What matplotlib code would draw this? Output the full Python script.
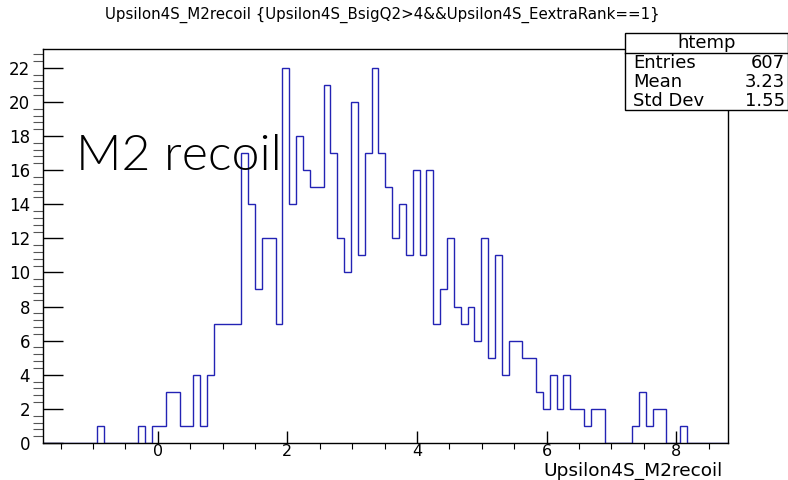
import matplotlib.pyplot as plt
import matplotlib.patches as mpatches
import numpy as np

# histogram range and content (100 bins)
xMin = -1.78
xMax = 8.80
counts = [
    0, 0, 0, 0, 0, 0, 0, 0, 1, 0,
    0, 0, 0, 0, 1, 0, 1, 1, 3, 3,
    1, 1, 4, 1, 4, 7, 7, 7, 7, 17,
    14, 9, 12, 12, 7, 22, 14, 18, 16, 15,
    15, 21, 17, 12, 10, 20, 11, 17, 22, 17,
    15, 12, 14, 11, 16, 11, 16, 7, 9, 12,
    8, 7, 8, 6, 12, 5, 11, 4, 6, 6,
    5, 5, 3, 2, 4, 2, 4, 2, 2, 1,
    2, 2, 0, 0, 0, 0, 1, 3, 1, 2,
    2, 0, 0, 1, 0, 0, 0, 0, 0, 0,
]
xTicks = [0, 2, 4, 6, 8]
yTicks = [0, 2, 4, 6, 8, 10, 12, 14, 16, 18, 20, 22]
statNames = ["Entries", "Mean", "Std Dev"]
statValues = ["607", "3.23", "1.55"]
histName = "htemp"
titleText = "Upsilon4S_M2recoil {Upsilon4S_BsigQ2>4&&Upsilon4S_EextraRank==1}"
xLabel = "Upsilon4S_M2recoil"

W, H = 788, 480
# the reference text is wide, DejaVu Sans is closer in width than Arial metrics
plt.rcParams['font.family'] = ['DejaVu Sans']

fig = plt.figure(figsize=(W / 100, H / 100), dpi=100)

def fx(px):
    return px / W

def fy(py):
    return 1 - py / H

# frame in pixels: left 42.5, right 728, top 49, bottom 443
ax = fig.add_axes([fx(42.5), fy(443), fx(728) - fx(42.5), fy(49) - fy(443)])

edges = np.linspace(xMin, xMax, len(counts) + 1)
ax.stairs(counts, edges, color="#2323b4", lw=1.0)

ax.set_xlim(xMin, xMax)
ax.set_ylim(0, max(counts) * 1.05)
ax.set_xticks(xTicks)
ax.set_yticks(yTicks)
ax.set_xticks(np.arange(-1.5, 9.0, 0.5), minor=True)
ax.set_yticks(np.arange(0, 23.2, 0.4), minor=True)
ax.tick_params(axis="both", direction="in", labelsize=12, colors="black")
ax.tick_params(axis="x", which="major", length=8.6, width=1, pad=1, labelsize=11.5)
ax.tick_params(axis="x", which="minor", length=4.3, width=0.8)
ax.tick_params(axis="y", which="major", length=14.4, width=1, pad=9)
ax.tick_params(axis="y", which="minor", length=7.2, width=0.8, color="#555555")
for s in ax.spines.values():
    s.set_linewidth(1)
    s.set_color("black")

# title and axis label
fig.text(fx(382), fy(15), titleText, ha="center", va="center", fontsize=10.8)
fig.text(fx(723), fy(471), xLabel, ha="right", va="center", fontsize=13.3)

# big annotation
fig.text(fx(76), fy(170), "M2 recoil", ha="left", va="baseline",
         fontsize=36, family=["Lato", "DejaVu Sans"], fontweight=300)

# stats box
boxL, boxR, boxT, boxB, sep = 625, 787.5, 33, 110, 53
box = mpatches.Rectangle((fx(boxL), fy(boxB)), fx(boxR) - fx(boxL), fy(boxT) - fy(boxB),
                         transform=fig.transFigure, facecolor="white", edgecolor="black",
                         lw=1, zorder=5)
fig.patches.append(box)
fig.add_artist(plt.Line2D([fx(boxL), fx(boxR)], [fy(sep), fy(sep)],
                          transform=fig.transFigure, color="black", lw=1, zorder=6))
fig.text(fx((boxL + boxR) / 2), fy(43), histName, ha="center", va="center",
         fontsize=13, zorder=7)
rowY = [63, 82, 101]
for name, val, y in zip(statNames, statValues, rowY):
    fig.text(fx(633), fy(y), name, ha="left", va="center", fontsize=13, zorder=7)
    fig.text(fx(785), fy(y), val, ha="right", va="center", fontsize=13, zorder=7)

fig.savefig("out.png", dpi=100, facecolor="white")
